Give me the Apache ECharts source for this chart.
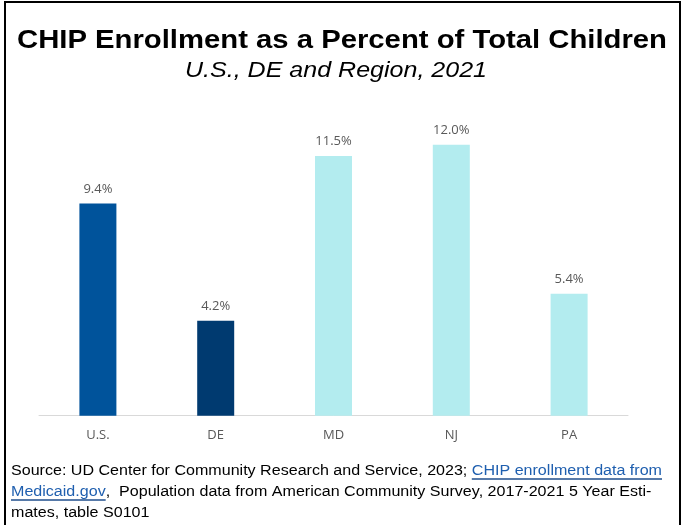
<!DOCTYPE html>
<html><head><meta charset="utf-8">
<script src="https://cdn.jsdelivr.net/npm/echarts@6/dist/echarts.min.js"></script>
<style>html,body{margin:0;padding:0;background:#fff}#c{width:683px;height:525px}</style>
</head><body><div id="c"></div>
<script>
const categories = ['U.S.', 'DE', 'MD', 'NJ', 'PA'];
const values = [9.4, 4.2, 11.5, 12.0, 5.4];
const barColors = ['#00539B', '#003A70', '#B3ECEF', '#B3ECEF', '#B3ECEF'];
const titleText = 'CHIP Enrollment as a Percent of Total Children';
const subtitleText = 'U.S., DE and Region, 2021';
const footA = 'Source: UD Center for Community Research and Service, 2023; ';
const footLink1 = 'CHIP enrollment data from';
const footLink2 = 'Medicaid.gov';
const footB = ',  Population data from American Community Survey, 2017-2021 5 Year Esti-';
const footC = 'mates, table S0101';

const fam = '"Liberation Sans", Arial, sans-serif';
const footFont = '14px ' + fam;
const titleFont = 'bold 25px ' + fam;
const subFont = 'italic 22px ' + fam;
const ctx = document.createElement('canvas').getContext('2d');
ctx.font = footFont;
const wA = ctx.measureText(footA).width;
const wL1 = ctx.measureText(footLink1).width;
ctx.font = titleFont;
const wTitle = ctx.measureText(titleText).width;
ctx.font = subFont;
const wSub = ctx.measureText(subtitleText).width;
const titleSX = 650 / wTitle;
const subSX = 302 / wSub;
const footSX = 651 / (wA + wL1);
const fx = 11;
const y1 = 464, y2 = 485, y3 = 506;
const linkColor = '#1F5FAF';
const ulColor = '#1F4E8C';

function footGroup(y, items) {
  let x = 0; const children = [];
  ctx.font = footFont;
  items.forEach(([t, c, u]) => {
    const w = ctx.measureText(t).width;
    children.push({type: 'text', x: x, y: 0, style: {text: t, font: footFont, fill: c, align: 'left', verticalAlign: 'top'}});
    if (u) children.push({type: 'line', shape: {x1: x, y1: 15, x2: x + w, y2: 15}, style: {stroke: ulColor, lineWidth: 1.3}});
    x += w;
  });
  return {type: 'group', x: fx, y: y, scaleX: footSX, children: children, silent: true};
}

const chart = echarts.init(document.getElementById('c'), null, {renderer: 'canvas'});
chart.setOption({
  animation: false,
  grid: {left: 39, right: 55, top: 99.5, bottom: 109.3},
  xAxis: {
    type: 'category', data: categories,
    axisLine: {lineStyle: {color: '#D9D9D9', width: 1}},
    axisTick: {show: false},
    axisLabel: {color: '#595959', fontSize: 13, fontFamily: '"Open Sans", sans-serif', margin: 13}
  },
  yAxis: {type: 'value', min: 0, max: 14, show: false, splitLine: {show: false}},
  series: [{
    type: 'bar', barWidth: 37,
    data: values.map((v, i) => ({value: v, itemStyle: {color: barColors[i]}})),
    label: {show: true, position: 'top', distance: 8, color: '#595959', fontSize: 13,
      fontFamily: '"Open Sans", sans-serif', formatter: p => p.value.toFixed(1) + '%'}
  }],
  graphic: [
    {type: 'rect', shape: {x: 5, y: 2, width: 675, height: 530}, style: {fill: 'none', stroke: '#000', lineWidth: 2}, silent: true},
    {type: 'text', x: 342, y: 29, scaleX: titleSX, style: {text: titleText, font: titleFont, fill: '#000', align: 'center', verticalAlign: 'top'}},
    {type: 'text', x: 336, y: 60, scaleX: subSX, style: {text: subtitleText, font: subFont, fill: '#000', align: 'center', verticalAlign: 'top'}},
    footGroup(y1, [[footA, '#000', false], [footLink1, linkColor, true]]),
    footGroup(y2, [[footLink2, linkColor, true], [footB, '#000', false]]),
    footGroup(y3, [[footC, '#000', false]])
  ]
});
</script></body></html>
